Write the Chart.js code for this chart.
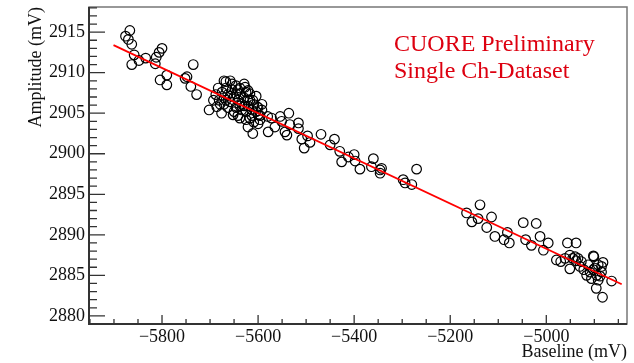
<!DOCTYPE html>
<html><head><meta charset="utf-8">
<script src="https://cdn.jsdelivr.net/npm/chart.js@4/dist/chart.umd.min.js"></script>
<style>html,body{margin:0;padding:0;background:#fff;overflow:hidden}canvas{display:block}</style>
</head><body>
<canvas id="c" width="634" height="363"></canvas>
<script>
// Baseline (mV) of each event
const baseline = [
  -5867,-5876,-5870,-5863,-5858,-5863,-5848,-5834,-5814,-5812,-5806,-5800,-5804,-5790,-5790,-5752,-5748,-5735,-5740,-5728,-5702,-5693,
  -5688,-5681,-5675,-5671,-5667,-5663,-5658,-5654,-5650,-5646,-5642,-5638,-5634,-5629,-5625,-5621,-5617,-5613,-5609,-5604,-5600,-5596,-5592,
  -5625,-5634,-5617,-5609,-5638,-5646,-5663,-5671,-5654,-5667,-5629,-5617,-5683,-5642,-5625,-5600,-5592,-5650,-5658,-5613,-5604,-5629,-5621,
  -5646,-5667,-5679,-5638,-5671,-5658,-5627,-5621,-5642,-5611,-5602,-5600,-5596,-5611,-5621,-5638,-5652,-5676,-5686,
  -5580,-5579,-5572,-5565,-5554,-5551,-5544,-5540,-5536,-5534,-5516,-5516,-5509,-5497,-5492,-5504,-5469,-5450,-5441,-5430,-5426,-5412,
  -5400,-5398,-5388,-5360,-5364,-5346,-5343,-5346,-5298,-5294,-5280,-5270,
  -5166,-5138,-5155,-5142,-5114,-5124,-5107,-5088,-5081,-5077,-5048,-5043,-5031,-5021,-5013,-5006,-4996,-4979,-4970,
  -4956,-4938,-4961,-4951,-4940,-4934,-4927,-4951,-4913,-4901,-4902,-4892,-4895,-4885,-4906,-4892,-4896,-4883,-4864,-4916,
  -4885,-4899,-4888,-4909,-4882,-4922,-4938,-4930,-4902,-4945
];
// Amplitude (mV) of each event
const amplitude = [
  2915.2,2914.5,2914.1,2913.5,2912.2,2911.0,2911.5,2911.8,2911.1,2911.9,2912.5,2913.0,2909.1,2909.7,2908.5,2909.3,2909.5,2911.0,2908.3,2907.3,2905.4,2906.6,
  2907.3,2906.6,2907.6,2906.9,2908.1,2907.3,2906.4,2907.9,2907.0,2908.4,2906.6,2907.4,2906.1,2906.9,2907.6,2905.9,2906.6,2905.4,2906.1,2905.2,2905.7,2904.7,2905.4,
  2905.2,2905.4,2904.4,2903.9,2905.9,2905.7,2905.7,2906.1,2908.6,2908.9,2908.6,2907.4,2908.1,2904.7,2904.2,2903.7,2906.1,2905.2,2907.1,2904.7,2907.1,2905.9,2906.6,
  2907.4,2906.6,2906.1,2908.1,2909.0,2909.0,2908.2,2907.8,2907.9,2906.6,2905.8,2904.8,2904.2,2902.5,2903.3,2904.4,2904.8,2905.0,2905.8,
  2904.6,2902.7,2904.4,2903.3,2904.6,2904.0,2902.7,2902.3,2905.0,2903.6,2903.8,2903.1,2901.8,2902.2,2901.4,2900.7,2902.4,2901.1,2901.8,2900.3,2899.0,2899.6,
  2899.9,2899.1,2898.1,2899.4,2898.4,2898.0,2898.2,2897.6,2896.8,2896.4,2896.2,2898.1,
  2892.7,2893.7,2891.6,2892.0,2892.2,2890.9,2889.8,2889.4,2890.3,2889.0,2891.5,2889.4,2888.7,2891.4,2889.8,2888.1,2889.0,2886.9,2886.7,
  2889.0,2889.0,2887.1,2887.5,2887.3,2887.1,2886.7,2885.8,2886.3,2887.3,2885.7,2886.3,2885.0,2885.4,2884.6,2884.4,2883.4,2882.3,2884.3,2885.0,
  2886.1,2885.9,2884.9,2885.4,2886.6,2885.7,2886.8,2886.1,2887.4,2887.1
];
// Linear fit
const fitBaseline = [-5901, -4843];
const fitAmplitude = [2913.4, 2883.9];
// Axes
const xTicks = [-5800, -5600, -5400, -5200, -5000];
const yTicks = [2880, 2885, 2890, 2895, 2900, 2905, 2910, 2915];
const xRange = [-5952, -4832];
const yRange = [2879.0, 2918.1];
const xTitle = 'Baseline (mV)';
const yTitle = 'Amplitude (mV)';
const labelLines = ['CUORE Preliminary', 'Single Ch-Dataset'];

Chart.defaults.font.family = '"Liberation Serif", "Times New Roman", serif';
Chart.defaults.font.size = 18;
Chart.defaults.color = '#111';

const fmt = v => (v < 0 ? '\u2212' : '') + Math.abs(v);

const framePlugin = {
  id: 'frame',
  afterDatasetsDraw(chart) {
    const {ctx, chartArea: a, scales: {x, y}} = chart;
    ctx.save();
    ctx.strokeStyle = '#777'; ctx.lineWidth = 1.5;
    ctx.strokeRect(a.left, a.top, a.right - a.left, a.bottom - a.top);
    ctx.strokeStyle = '#333'; ctx.lineWidth = 2;
    ctx.beginPath();
    ctx.moveTo(a.left, a.top); ctx.lineTo(a.left, a.bottom); ctx.lineTo(a.right, a.bottom);
    ctx.stroke();
    ctx.lineWidth = 1.3;
    ctx.beginPath();
    for (let v = Math.ceil(y.min); v <= y.max; v += 1) {
      const py = y.getPixelForValue(v);
      const len = (Math.round(v) % 5 === 0) ? 16 : 8;
      ctx.moveTo(a.left, py); ctx.lineTo(a.left + len, py);
    }
    for (let v = Math.ceil(x.min / 50) * 50; v <= x.max; v += 50) {
      const px = x.getPixelForValue(v);
      const len = (v % 200 === 0) ? 9 : 5;
      ctx.moveTo(px, a.bottom); ctx.lineTo(px, a.bottom - len);
    }
    ctx.stroke();
    ctx.fillStyle = '#dd0010';
    ctx.font = '24px "Liberation Serif"';
    ctx.textBaseline = 'alphabetic'; ctx.textAlign = 'left';
    ctx.fillText(labelLines[0], 394, 50.5);
    ctx.fillText(labelLines[1], 394, 77.5);
    ctx.restore();
  }
};

new Chart(document.getElementById('c'), {
  type: 'scatter',
  data: {
    datasets: [
      {
        data: fitBaseline.map((v, i) => ({x: v, y: fitAmplitude[i]})),
        showLine: true, borderColor: '#f00', borderWidth: 1.8, pointRadius: 0, fill: false
      },
      {
        data: baseline.map((v, i) => ({x: v, y: amplitude[i]})),
        pointStyle: 'circle', pointRadius: 4.8, borderColor: '#000', borderWidth: 1.2,
        backgroundColor: 'rgba(0,0,0,0)'
      }
    ]
  },
  options: {
    responsive: false, animation: false, devicePixelRatio: 1,
    layout: {padding: {left: 0, right: 7, top: 7, bottom: 0}},
    plugins: {legend: {display: false}, tooltip: {enabled: false}},
    scales: {
      x: {
        type: 'linear', position: 'bottom', min: xRange[0], max: xRange[1],
        grid: {display: false, drawTicks: false}, border: {display: false},
        afterBuildTicks: s => { s.ticks = xTicks.map(v => ({value: v})); },
        ticks: {padding: 2, color: '#111', callback: v => fmt(v), maxRotation: 0, autoSkip: false},
        title: {display: true, text: xTitle, align: 'end', color: '#111', padding: {top: 0, bottom: 0}},
        afterFit: s => { s.height = 39; s.paddingLeft = 0; s.paddingRight = 0; }
      },
      y: {
        type: 'linear', position: 'left', min: yRange[0], max: yRange[1],
        grid: {display: false, drawTicks: false}, border: {display: false},
        afterBuildTicks: s => { s.ticks = yTicks.map(v => ({value: v})); },
        ticks: {padding: 4, color: '#111', callback: v => String(v), autoSkip: false},
        title: {display: true, text: yTitle, align: 'end', color: '#111', padding: {top: 25, bottom: 0}},
        afterFit: s => { s.width = 89; s.paddingTop = 0; s.paddingBottom = 0; }
      }
    }
  },
  plugins: [framePlugin]
});
</script>
</body></html>
